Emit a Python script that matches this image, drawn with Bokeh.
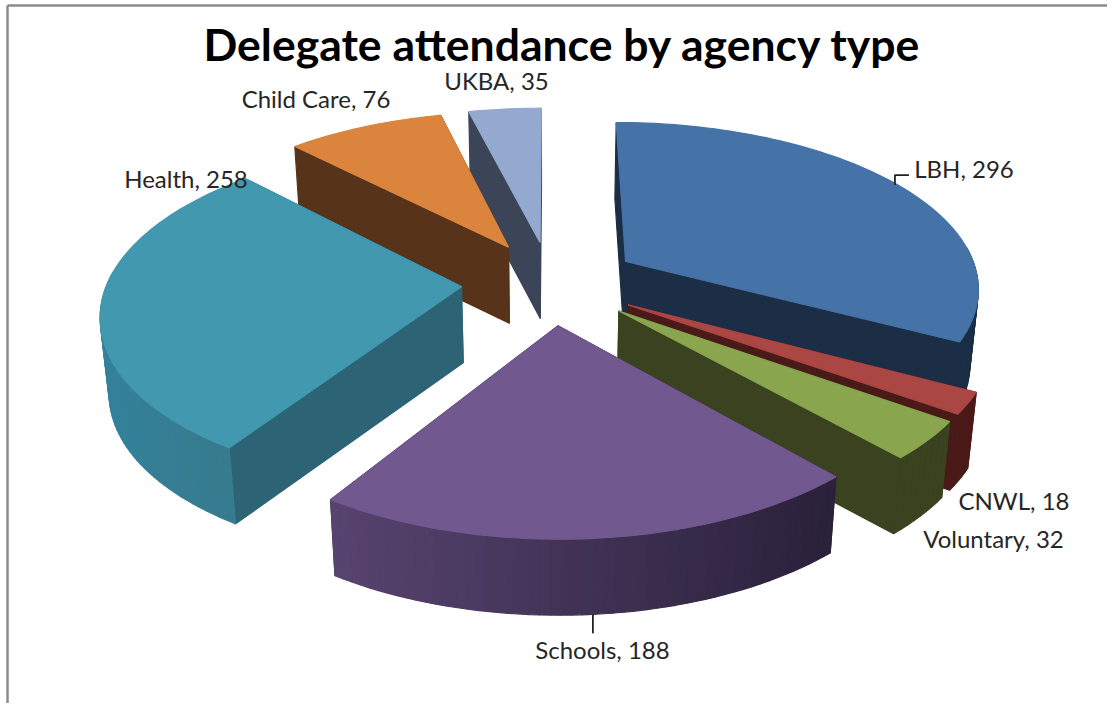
import math
from bokeh.plotting import figure, ColumnDataSource
from bokeh.core.properties import value
from bokeh.embed import file_html
from bokeh.resources import INLINE

# ---- data ----
categories = ["LBH", "CNWL", "Voluntary", "Schools", "Health", "Child Care", "UKBA"]
values = [296, 18, 32, 188, 258, 76, 35]
title_text = "Delegate attendance by agency type"

# ---- style ----
top_colors = ["#4572A7", "#AA4643", "#89A54E", "#71588F", "#4198AF", "#DB843D", "#93A9CF"]
radial_colors = ["#1B2E45", "#4A1A18", "#3A421F", "#2C2339", "#2C6475", "#573319", "#3C4557"]
arc_left = [(27, 46, 69), (74, 26, 24), (58, 66, 31), (88, 68, 112), (52, 130, 155), (87, 51, 25), (60, 69, 87)]
arc_right = [(27, 46, 69), (74, 26, 24), (58, 66, 31), (42, 33, 58), (56, 122, 140), (87, 51, 25), (60, 69, 87)]
draw_order = [6, 5, 0, 1, 2, 4, 3]
label_x = [963.5, 1013.5, 993, 602, 185.5, 315.5, 496]
label_y = [168, 500, 538, 649, 178, 98, 80]

CX, CY, AX, BY, PX, PY, EXPLODE, DEPTH, SHRINK = 550, 282, 354, 166, 0.145, 0.1525, 0.252, 76, 0.02


def proj(x, y, z=0.0):
    X = CX + AX * x / (1 + PX * y)
    Y = CY - BY * y / (1 + PY * y) + z
    X = CX + (X - CX) * (1 - SHRINK * z / DEPTH)
    return X, Y


p = figure(width=1107, height=703, x_range=(0, 1107), y_range=(703, 0),
           output_backend="svg", toolbar_location=None, min_border=0)
p.axis.visible = False
p.grid.visible = False
p.outline_line_color = None
p.background_fill_color = "white"

# frame of the original screenshot
p.line([7, 7], [5, 703], line_color="#8c8c8c", line_width=2.5)
p.line([7, 1107], [5, 5], line_color="#8c8c8c", line_width=2.5)

total = sum(values)
start = 0.0
spans = []
for v in values:
    end = start + v / total * 2 * math.pi
    spans.append((start, end))
    start = end

xs, ys, cols = [], [], []
def add(poly, col):
    xs.append([q[0] for q in poly])
    ys.append([q[1] for q in poly])
    cols.append(col)

for i in draw_order:
    a0, a1 = spans[i]
    mid = (a0 + a1) / 2
    ox, oy = EXPLODE * math.sin(mid), EXPLODE * math.cos(mid)
    n = max(4, int((a1 - a0) * 40))
    ang = [a0 + (a1 - a0) * k / n for k in range(n + 1)]
    rim = [(ox + math.sin(t), oy + math.cos(t)) for t in ang]
    top = [proj(*r) for r in rim]
    bot = [proj(r[0], r[1], DEPTH) for r in rim]
    apex_t, apex_b = proj(ox, oy), proj(ox, oy, DEPTH)
    # cut faces first, the curved wall over them
    add([apex_t, top[0], bot[0], apex_b], radial_colors[i])
    add([apex_t, top[-1], bot[-1], apex_b], radial_colors[i])
    xmin, xmax = min(q[0] for q in top), max(q[0] for q in top)
    for k in range(n):
        if math.cos((ang[k] + ang[k + 1]) / 2) > 0.1:
            continue
        f = ((top[k][0] + top[k + 1][0]) / 2 - xmin) / max(xmax - xmin, 1)
        c = tuple(int(arc_left[i][j] + (arc_right[i][j] - arc_left[i][j]) * f) for j in range(3))
        add([top[k], top[k + 1], bot[k + 1], bot[k]], "#%02x%02x%02x" % c)
    # top face
    add([apex_t] + top, top_colors[i])

src = ColumnDataSource(dict(xs=xs, ys=ys, c=cols))
p.patches("xs", "ys", source=src, fill_color="c", line_color="c", line_width=1.2)

# leader lines, from the middle of the slices' rims
m0 = sum(spans[0]) / 2
lx, ly = proj((1 + EXPLODE) * math.sin(m0), (1 + EXPLODE) * math.cos(m0))
p.line([lx - 3, lx - 3, lx + 11], [ly, ly - 10, ly - 10], line_color="#222222", line_width=1.8)
m3 = sum(spans[3]) / 2
lx, ly = proj((1 + EXPLODE) * math.sin(m3), (1 + EXPLODE) * math.cos(m3), DEPTH)
p.line([lx, lx], [ly, ly + 19], line_color="#222222", line_width=1.8)

labels = ["{}, {}".format(c, v) for c, v in zip(categories, values)]
p.text(label_x, label_y, text=labels, text_font=value("Lato"), text_font_size="24px",
       text_color="#262626", text_align="center", text_baseline="middle")
p.text([562], [43], text=[title_text], text_font=value("Lato"), text_font_size="44.5px",
       text_font_style="bold", text_color="#000000", text_align="center", text_baseline="middle")

open("out.html", "w").write(file_html(p, INLINE))
